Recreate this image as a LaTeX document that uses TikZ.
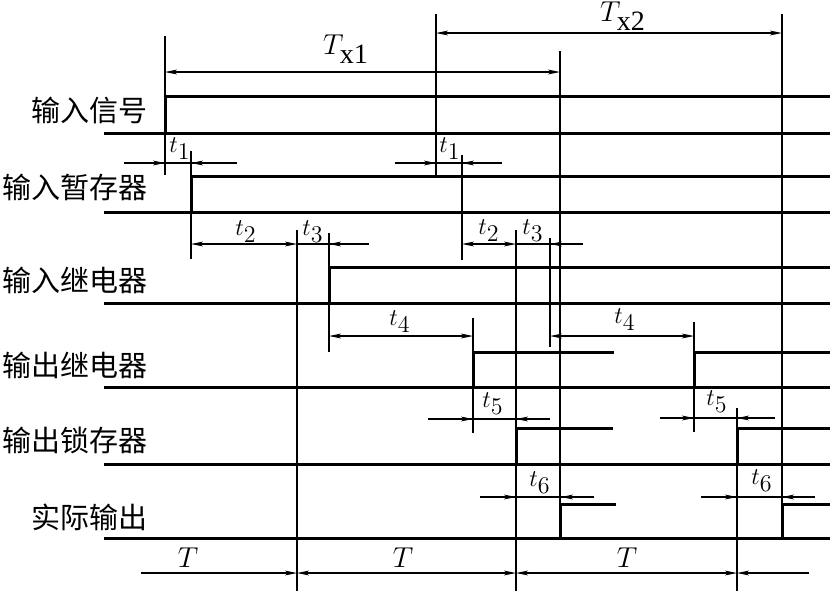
\documentclass[tikz,border=0pt]{standalone}
\usepackage{fontspec}
\setmainfont{Liberation Serif}
\newfontfamily\cjk{Noto Sans CJK SC}
\usetikzlibrary{arrows.meta}
\newcommand{\tv}[2]{$#1_{\textstyle #2}$}
\tikzset{
  sig/.style = {line width=1.5pt},
  ext/.style = {line width=0.55pt},
  dim/.style = {line width=0.55pt},
  nm/.style  = {font=\cjk\fontsize{14.5}{14.5}\selectfont, anchor=east, inner sep=0pt},
  tl/.style  = {font=\fontsize{12}{12}\selectfont, inner sep=0pt},
  bl/.style  = {font=\fontsize{14}{14}\selectfont, inner sep=0pt},
}

\begin{document}
\begin{tikzpicture}[x=0.5pt, y=-0.5pt,
    >={Stealth[length=6pt, width=2.4pt, inset=1.5pt]}]
  \useasboundingbox (0,0) rectangle (831,591);

  % ===== signal names ===================================================
  \node[nm] (in)   at (148,110) {输入信号};
  \node[nm] (buf)  at (148,187) {输入暂存器};
  \node[nm] (inr)  at (148,280) {输入继电器};
  \node[nm] (outr) at (148,365) {输出继电器};
  \node[nm] (lat)  at (148,440) {输出锁存器};
  \node[nm] (act)  at (148,517) {实际输出};

  % ===== waveforms ======================================================
  \draw[sig] (104,133) -- (830,133);
  \draw[sig] (165,133) -- (165,96) -- (830,96);

  \draw[sig] (104,212) -- (830,212);
  \draw[sig] (191,212) -- (191,176) -- (830,176);

  \draw[sig] (104,303) -- (830,303);
  \draw[sig] (329,303) -- (329,267) -- (830,267);

  \draw[sig] (104,387) -- (830,387);
  \draw[sig] (473,387) -- (473,352) -- (614,352);
  \draw[sig] (694,387) -- (694,352) -- (830,352);

  \draw[sig] (104,464) -- (830,464);
  \draw[sig] (516,464) -- (516,428) -- (613,428);
  \draw[sig] (737,464) -- (737,428) -- (830,428);

  \draw[sig] (104,538) -- (830,538);
  \draw[sig] (560,538) -- (560,504) -- (616,504);
  \draw[sig] (782,538) -- (782,504) -- (830,504);

  % ===== extension lines ================================================
  \draw[ext] (165,36)  -- (165,175);
  \draw[ext] (436,14)  -- (436,176);
  \draw[ext] (560,51)  -- (560,504);
  \draw[ext] (782,14)  -- (782,504);
  \draw[ext] (191,151) -- (191,259);
  \draw[ext] (462,155) -- (462,260);
  \draw[ext] (297,230) -- (297,591);
  \draw[ext] (329,233) -- (329,352);
  \draw[ext] (516,230) -- (516,591);
  \draw[ext] (550,238) -- (550,347);
  \draw[ext] (473,318) -- (473,433);
  \draw[ext] (694,322) -- (694,432);
  \draw[ext] (737,408) -- (737,591);

  % ===== scan cycles ====================================================
  \draw[dim, <->] (165,72) -- (560,72);
  \node[bl] (tx1) at (346,49) {\tv{T}{\mathrm{x1}}};

  \draw[dim, <->] (436,33) -- (782,33);
  \node[bl] (tx2) at (623,16) {\tv{T}{\mathrm{x2}}};

  % ===== delays =========================================================
  \draw[dim] (124,163) -- (237,163);
  \draw[dim, ->] (124,163) -- (165,163);
  \draw[dim, ->] (237,163) -- (191,163);
  \node[tl] (d1a) at (180,149) {\tv{t}{1}};

  \draw[dim] (395,163) -- (502,163);
  \draw[dim, ->] (395,163) -- (436,163);
  \draw[dim, ->] (502,163) -- (462,163);
  \node[tl] (d1b) at (450,149) {\tv{t}{1}};

  \draw[dim, <->] (191,244) -- (297,244);
  \draw[dim] (297,244) -- (369,244);
  \draw[dim, ->] (369,244) -- (329,244);
  \node[tl] (d2a) at (246,232) {\tv{t}{2}};
  \node[tl] (d3a) at (313,232) {\tv{t}{3}};

  \draw[dim, <->] (462,244) -- (516,244);
  \draw[dim] (516,244) -- (583,244);
  \draw[dim, ->] (583,244) -- (550,244);
  \node[tl] (d2b) at (489,231) {\tv{t}{2}};
  \node[tl] (d3b) at (533,231) {\tv{t}{3}};

  \draw[dim, <->] (329,336) -- (473,336);
  \node[tl] (d4a) at (400,322) {\tv{t}{4}};

  \draw[dim, <->] (550,336) -- (694,336);
  \node[tl] (d4b) at (625,320) {\tv{t}{4}};

  \draw[dim] (428,419) -- (550,419);
  \draw[dim, ->] (428,419) -- (473,419);
  \draw[dim, ->] (550,419) -- (516,419);
  \node[tl] (d5a) at (493,404) {\tv{t}{5}};

  \draw[dim] (660,418) -- (775,418);
  \draw[dim, ->] (660,418) -- (694,418);
  \draw[dim, ->] (775,418) -- (737,418);
  \node[tl] (d5b) at (717,402) {\tv{t}{5}};

  \draw[dim] (480,497) -- (594,497);
  \draw[dim, ->] (480,497) -- (516,497);
  \draw[dim, ->] (594,497) -- (561,497);
  \node[tl] (d6a) at (540,483) {\tv{t}{6}};

  \draw[dim] (701,497) -- (815,497);
  \draw[dim, ->] (701,497) -- (737,497);
  \draw[dim, ->] (815,497) -- (782,497);
  \node[tl] (d6b) at (762,481) {\tv{t}{6}};

  % ===== scan period T ==================================================
  \draw[dim, ->]  (141,573) -- (297,573);
  \draw[dim, <->] (297,573) -- (516,573);
  \draw[dim, <->] (516,573) -- (737,573);
  \draw[dim, ->]  (809,573) -- (737,573);
  \node[bl] (p1) at (188,558) {$T$};
  \node[bl] (p2) at (403,558) {$T$};
  \node[bl] (p3) at (627,558) {$T$};

\end{tikzpicture}
\end{document}
